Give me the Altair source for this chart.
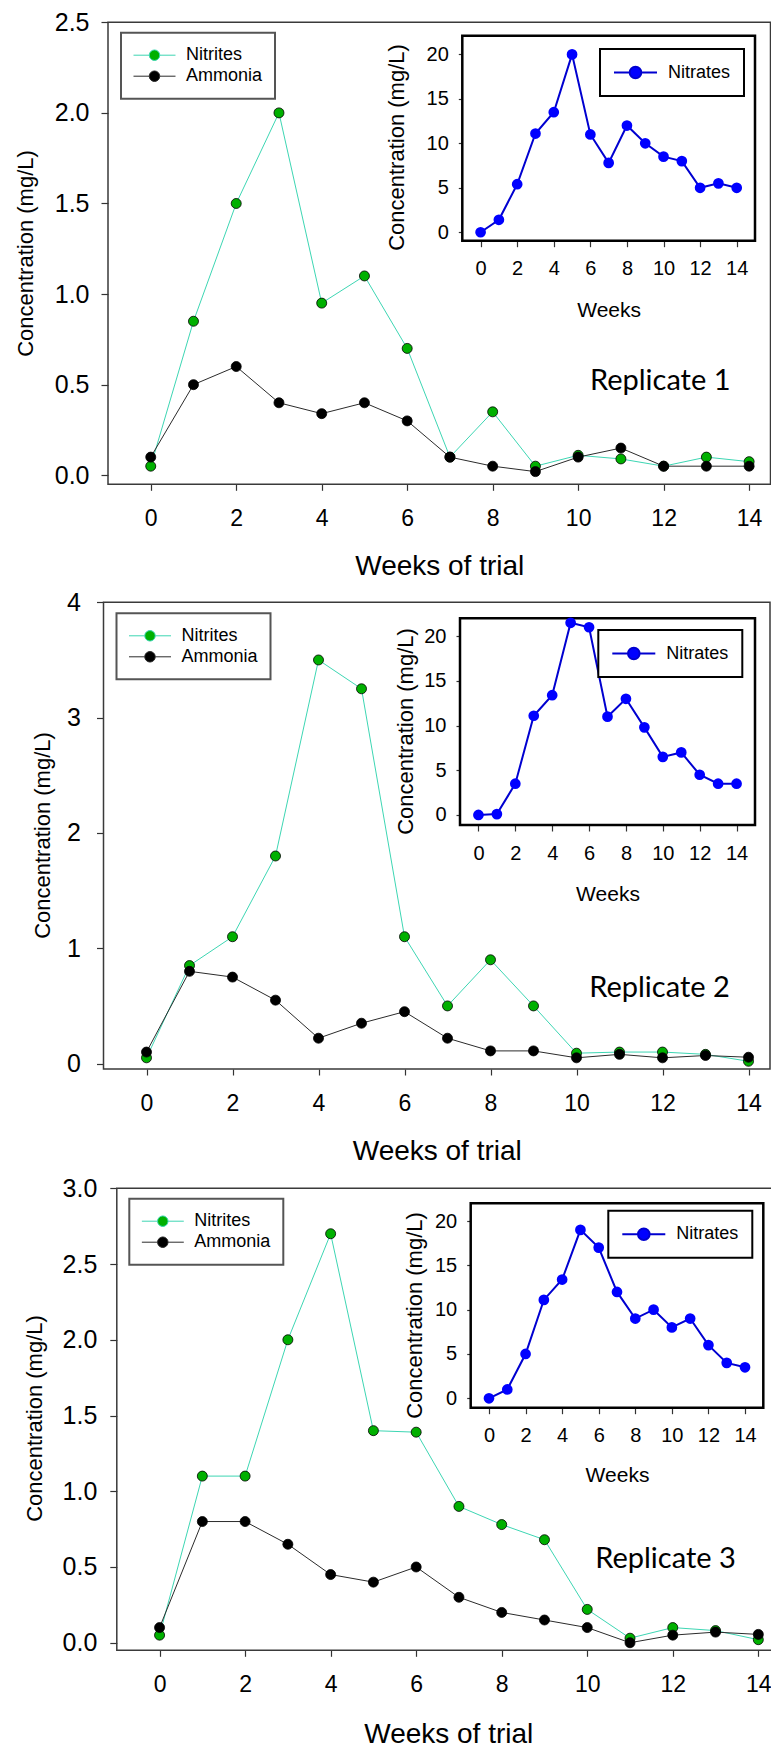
import altair as alt
import pandas as pd

# ---------------- data ----------------
weeks = list(range(15))
series_main = ["Nitrites", "Ammonia"]
series_inset = ["Nitrates"]

r1_nitrites = [0.05, 0.85, 1.50, 2.00, 0.95, 1.10, 0.70, 0.10, 0.35, 0.05, 0.11, 0.09, 0.05, 0.10, 0.075]
r1_ammonia = [0.10, 0.50, 0.60, 0.40, 0.34, 0.40, 0.30, 0.10, 0.05, 0.02, 0.10, 0.15, 0.05, 0.05, 0.05]
r1_nitrates = [0.0, 1.4, 5.4, 11.1, 13.5, 20.0, 11.0, 7.8, 12.0, 10.0, 8.5, 8.0, 5.0, 5.5, 5.0]

r2_nitrites = [0.05, 0.85, 1.10, 1.80, 3.50, 3.25, 1.10, 0.50, 0.90, 0.50, 0.09, 0.10, 0.10, 0.08, 0.02]
r2_ammonia = [0.10, 0.80, 0.75, 0.55, 0.22, 0.35, 0.45, 0.22, 0.11, 0.11, 0.05, 0.08, 0.05, 0.07, 0.055]
r2_nitrates = [0.0, 0.1, 3.5, 11.1, 13.4, 21.5, 21.0, 11.0, 13.0, 9.8, 6.5, 7.0, 4.5, 3.5, 3.5]

r3_nitrites = [0.05, 1.10, 1.10, 2.00, 2.70, 1.40, 1.39, 0.90, 0.78, 0.68, 0.22, 0.03, 0.10, 0.08, 0.02]
r3_ammonia = [0.10, 0.80, 0.80, 0.65, 0.45, 0.40, 0.50, 0.30, 0.20, 0.15, 0.10, 0.00, 0.05, 0.07, 0.055]
r3_nitrates = [0.0, 1.0, 5.0, 11.1, 13.4, 19.0, 17.0, 12.0, 9.0, 10.0, 8.0, 9.0, 6.0, 4.0, 3.5]

labels = ["Replicate 1", "Replicate 2", "Replicate 3"]
main_y_ticks = [[0, 0.5, 1.0, 1.5, 2.0, 2.5], [0, 1, 2, 3, 4], [0, 0.5, 1.0, 1.5, 2.0, 2.5, 3.0]]
main_y_formats = [".1f", "d", ".1f"]
inset_y_ticks = [0, 5, 10, 15, 20]
x_ticks = list(range(0, 15, 2))

# ---------------- layout / style ----------------
H, W = 1747, 771
FONT = "Liberation Sans"
TURQ = "#3dd6b3"
DARK = "#2b2b2b"
GREEN = "#00b000"
BLUE_LINE = "#0000d0"
BLUE = "#0000ff"

MAIN_SYMBOL = "M-1,0L-0.25,0M0.25,0L1,0M0.25,0A0.25,0.25,0,1,1,-0.25,0A0.25,0.25,0,1,1,0.25,0Z"
INSET_SYMBOL = "M-1,0L-0.27,0M0.27,0L1,0M0.27,0A0.27,0.27,0,1,1,-0.27,0A0.27,0.27,0,1,1,0.27,0Z"

layouts = [
    dict(mx=(108, 770.5), my=(484.3, 22.3), xmax=14.5, ydom=(-0.05, 2.5),
         ylabpad=12, ytitle=(25, 253), xtitle_base=574, rep=(11.92, 0.47),
         leg=(121, 32.7),
         ix=(462.3, 755), iy=(240.7, 35.7), iydom=(-0.95, 22.1),
         iytitle=(396, 147), ixtitle_base=316.7, ileg=(600, 49)),
    dict(mx=(103.5, 770), my=(1069, 602.3), xmax=14.5, ydom=(-0.047, 4.0),
         ylabpad=16, ytitle=(42, 835), xtitle_base=1159, rep=(11.93, 0.577),
         leg=(116.5, 613.3),
         ix=(460, 755), iy=(825, 618.3), iydom=(-1.12, 22.0),
         iytitle=(405, 731), ixtitle_base=900, ileg=(598.3, 630)),
    dict(mx=(116.8, 779.7), my=(1650.3, 1188.3), xmax=14.5, ydom=(-0.05, 3.0),
         ylabpad=13, ytitle=(34, 1418), xtitle_base=1742, rep=(11.83, 0.495),
         leg=(129.3, 1198.7),
         ix=(470.7, 763.3), iy=(1407.7, 1203.3), iydom=(-1.06, 22.0),
         iytitle=(414, 1315), ixtitle_base=1481.5, ileg=(608.3, 1210.7)),
]

one = pd.DataFrame({"k": [0]})


def main_legend(L):
    return alt.Legend(
        title=None, orient="none", legendX=L["leg"][0], legendY=L["leg"][1],
        symbolType=MAIN_SYMBOL, symbolSize=1764, symbolStrokeWidth=1,
        labelFont=FONT, labelFontSize=18, labelColor="black", labelOffset=10,
        labelExpr="datum.label + '\u00a0\u00a0\u00a0'",
        padding=12, rowPadding=0, clipHeight=21, strokeColor="#555555", fillColor="white",
    )


def main_panel(nitrites, ammonia, label, yticks, yfmt, L):
    df = pd.DataFrame({
        "week": weeks + weeks,
        "value": nitrites + ammonia,
        "series": [series_main[0]] * len(weeks) + [series_main[1]] * len(weeks),
    })

    def xs():
        return alt.Scale(domain=[-1, L["xmax"]], range=list(L["mx"]), zero=False, nice=False)

    def ys():
        return alt.Scale(domain=list(L["ydom"]), range=list(L["my"]), zero=False, nice=False)

    xaxis = alt.Axis(
        orient="bottom", offset=-(H - L["my"][0]), values=x_ticks, format="d",
        tickSize=6, labelFontSize=23, labelPadding=17,
        title="Weeks of trial", titleFontSize=28,
        titleX=(L["mx"][0] + L["mx"][1]) / 2, titleY=L["xtitle_base"] - L["my"][0],
        titleAlign="center", titleBaseline="alphabetic",
    )
    yaxis = alt.Axis(
        orient="left", offset=-L["mx"][0], values=yticks, format=yfmt,
        tickSize=7, labelFontSize=25, labelPadding=L["ylabpad"],
        title="Concentration (mg/L)", titleFontSize=22, titleAngle=270,
        titleX=L["ytitle"][0] - L["mx"][0], titleY=L["ytitle"][1],
        titleAlign="center", titleBaseline="middle",
    )
    # frame carries the axes (a plain unit, so its axes are kept)
    frame = alt.Chart(one).mark_rect(filled=False, stroke="#3a3a3a", strokeWidth=1.5).encode(
        x=alt.XDatum(-1, type="quantitative", scale=xs(), axis=xaxis),
        x2=alt.X2Datum(L["xmax"]),
        y=alt.YDatum(L["ydom"][0], type="quantitative", scale=ys(), axis=yaxis),
        y2=alt.Y2Datum(L["ydom"][1]),
    )
    lines = alt.Chart(df).mark_line(strokeWidth=1).encode(
        x=alt.X("week:Q", scale=xs(), axis=None),
        y=alt.Y("value:Q", scale=ys(), axis=None),
        color=alt.Color("series:N", scale=alt.Scale(domain=series_main, range=[TURQ, DARK]),
                        legend=main_legend(L)),
    )
    pts = alt.Chart(df).mark_circle(size=100, opacity=1, stroke="black", strokeWidth=0.8).encode(
        x=alt.X("week:Q", scale=xs(), axis=None),
        y=alt.Y("value:Q", scale=ys(), axis=None),
        fill=alt.Fill("series:N", scale=alt.Scale(domain=series_main, range=[GREEN, "black"]),
                      legend=main_legend(L)),
    )
    rep = alt.Chart(one).mark_text(text=label, font="Lato", fontSize=29, align="center",
                                   baseline="alphabetic", color="black").encode(
        x=alt.XDatum(L["rep"][0], type="quantitative", scale=xs(), axis=None),
        y=alt.YDatum(L["rep"][1], type="quantitative", scale=ys(), axis=None),
    )
    return [frame, alt.layer(lines, pts), rep]


def inset_panel(nitrates, L):
    df = pd.DataFrame({"week": weeks, "value": nitrates, "series": series_inset * len(weeks)})

    def xs():
        return alt.Scale(domain=[-1, 15], range=list(L["ix"]), zero=False, nice=False)

    def ys():
        return alt.Scale(domain=list(L["iydom"]), range=list(L["iy"]), zero=False, nice=False)

    xaxis = alt.Axis(
        orient="bottom", offset=-(H - L["iy"][0]), values=x_ticks, format="d",
        tickSize=6, labelFontSize=20, labelPadding=12,
        title="Weeks", titleFontSize=21,
        titleX=(L["ix"][0] + L["ix"][1]) / 2, titleY=L["ixtitle_base"] - L["iy"][0],
        titleAlign="center", titleBaseline="alphabetic",
    )
    yaxis = alt.Axis(
        orient="left", offset=-L["ix"][0], values=inset_y_ticks, format="d",
        tickSize=4, labelFontSize=20, labelPadding=10,
        title="Concentration (mg/L)", titleFontSize=22, titleAngle=270,
        titleX=L["iytitle"][0] - L["ix"][0], titleY=L["iytitle"][1],
        titleAlign="center", titleBaseline="middle",
    )
    legend = alt.Legend(
        title=None, orient="none", legendX=L["ileg"][0], legendY=L["ileg"][1],
        symbolType=INSET_SYMBOL, symbolSize=1849, symbolStrokeWidth=2, symbolFillColor=BLUE,
        labelFont=FONT, labelFontSize=18, labelColor="black", labelOffset=10,
        labelExpr="datum.label + '\u00a0\u00a0'",
        padding=13, clipHeight=21, strokeColor="black", fillColor="white",
    )
    frame = alt.Chart(one).mark_rect(fill="white", stroke="black", strokeWidth=2.5).encode(
        x=alt.XDatum(-1, type="quantitative", scale=xs(), axis=xaxis),
        x2=alt.X2Datum(15),
        y=alt.YDatum(L["iydom"][0], type="quantitative", scale=ys(), axis=yaxis),
        y2=alt.Y2Datum(L["iydom"][1]),
    )
    line = alt.Chart(df).mark_line(strokeWidth=2).encode(
        x=alt.X("week:Q", scale=xs(), axis=None),
        y=alt.Y("value:Q", scale=ys(), axis=None),
        color=alt.Color("series:N", scale=alt.Scale(domain=series_inset, range=[BLUE_LINE]), legend=legend),
    )
    pts = alt.Chart(df).mark_circle(size=115, opacity=1, color=BLUE).encode(
        x=alt.X("week:Q", scale=xs(), axis=None),
        y=alt.Y("value:Q", scale=ys(), axis=None),
    )
    return [frame, alt.layer(line, pts)]


data_sets = [
    (r1_nitrites, r1_ammonia, r1_nitrates),
    (r2_nitrites, r2_ammonia, r2_nitrates),
    (r3_nitrites, r3_ammonia, r3_nitrates),
]

layers = []
for i, (n, a, nt) in enumerate(data_sets):
    L = layouts[i]
    layers += main_panel(n, a, labels[i], main_y_ticks[i], main_y_formats[i], L)
    layers += inset_panel(nt, L)

chart = (
    alt.layer(*layers)
    .resolve_scale(x="independent", y="independent", color="independent", fill="independent")
    .properties(width=W, height=H, autosize=alt.AutoSizeParams(type="none"), padding=0,
                background="white")
    .configure_view(strokeWidth=0)
    .configure_legend(strokeWidth=2)
    .configure_axis(
        labelFont=FONT, titleFont=FONT, labelColor="black", titleColor="black",
        titleFontWeight="normal", grid=False, domain=False, tickColor="#333333",
        tickWidth=1.2, labelFlush=False, labelOverlap=False,
    )
)

chart.save("out.html", embed_options={"renderer": "svg", "actions": False})
